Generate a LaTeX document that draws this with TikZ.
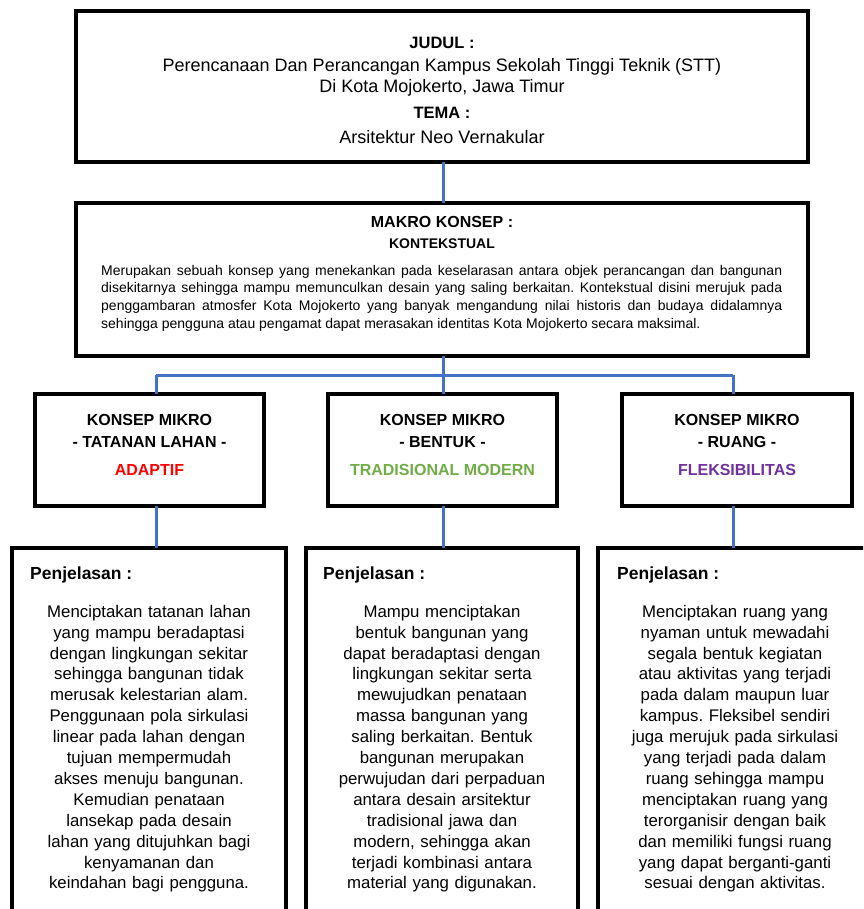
\documentclass[tikz,border=0pt]{standalone}
\usepackage{fontspec}
\setmainfont{Liberation Sans}
\frenchspacing
\definecolor{connblue}{HTML}{4472C4}
\definecolor{adred}{HTML}{FF0000}
\definecolor{tgreen}{HTML}{70AD47}
\definecolor{fpurple}{HTML}{7030A0}
\begin{document}
\begin{tikzpicture}[x=1pt,y=-1pt,
  box/.style={draw=black,line width=3.5pt,fill=white,inner sep=0pt,outer sep=0pt},
  conn/.style={draw=connblue,line width=3pt},
  lbl/.style={inner sep=0pt,anchor=base,text=black},
  ttl/.style={lbl,font=\bfseries\fontsize{16.5}{20}\selectfont},
  tbody/.style={lbl,font=\fontsize{18}{21}\selectfont},
  mik/.style={lbl,font=\bfseries\fontsize{16}{20}\selectfont},
  penj/.style={inner sep=0pt,anchor=base west,font=\bfseries\fontsize{17.5}{21}\selectfont},
  expl/.style={inner sep=0pt,anchor=north,text width=262pt,align=center,font=\fontsize{16.8}{20.9}\selectfont}
]
\useasboundingbox (0,0) rectangle (863,909);
\begin{scope}
\clip (0,0) rectangle (863,909);
% junction coordinates
\coordinate (j0) at (443,375);
\coordinate (j1) at (156,375);
\coordinate (j3) at (733,375);
% boxes
\node[box,minimum width=732pt,minimum height=151pt] (top) at (442,86.5) {};
\node[box,minimum width=732pt,minimum height=153pt] (makro) at (442,279.5) {};
\node[box,minimum width=229pt,minimum height=112pt] (ml) at (149.5,450) {};
\node[box,minimum width=229pt,minimum height=112pt] (mm) at (442.5,450) {};
\node[box,minimum width=230pt,minimum height=112pt] (mr) at (737,450) {};
\node[box,minimum width=274pt,minimum height=392pt] (bl) at (149,744) {};
\node[box,minimum width=272pt,minimum height=392pt] (bm) at (442,744) {};
\node[box,minimum width=274pt,minimum height=392pt] (br) at (735,744) {};
% connectors
\draw[conn] (top.south -| j0) -- (makro.north -| j0);
\draw[conn] (makro.south -| j0) -- (j0);
\draw[conn] (j1) -- (j3);
\draw[conn] (j1) -- (j1 |- ml.north);
\draw[conn] (j0) -- (j0 |- mm.north);
\draw[conn] (j3) -- (j3 |- mr.north);
\draw[conn] (ml.south -| j1) -- (bl.north -| j1);
\draw[conn] (mm.south -| j0) -- (bm.north -| j0);
\draw[conn] (mr.south -| j3) -- (br.north -| j3);
\end{scope}
% top texts
\node[ttl] (judul) at (442,49) {JUDUL :};
\node[tbody] (jl1) at (442,71.4) {Perencanaan Dan Perancangan Kampus Sekolah Tinggi Teknik (STT)};
\node[tbody] (jl2) at (442,92.4) {Di Kota Mojokerto, Jawa Timur};
\node[ttl] (tema) at (442,119) {TEMA :};
\node[tbody] (tl1) at (442,143.4) {Arsitektur Neo Vernakular};
% makro texts
\node[lbl,font=\bfseries\fontsize{16}{20}\selectfont] (mk1) at (442,227.7) {MAKRO KONSEP :};
\node[lbl,font=\bfseries\fontsize{14}{17}\selectfont] (mk2) at (442,248) {KONTEKSTUAL};
\node[anchor=north west,inner sep=0pt,text width=681pt,align=justify,font=\fontsize{14}{17.7}\selectfont] (mpara) at (101,262.6)
{\strut Merupakan sebuah konsep yang menekankan pada keselarasan antara objek perancangan dan bangunan\linebreak
disekitarnya sehingga mampu memunculkan desain yang saling berkaitan. Kontekstual disini merujuk pada\linebreak
penggambaran atmosfer Kota Mojokerto yang banyak mengandung nilai historis dan budaya didalamnya\linebreak
sehingga pengguna atau pengamat dapat merasakan identitas Kota Mojokerto secara maksimal.};
% mikro texts
\node[mik] (ml1) at (149.5,425.8) {KONSEP MIKRO};
\node[mik] (ml2) at (149.5,447.8) {- TATANAN LAHAN -};
\node[mik,text=adred] (ml3) at (149.5,475.8) {ADAPTIF};
\node[mik] (mm1) at (442.5,425.8) {KONSEP MIKRO};
\node[mik] (mm2) at (442.5,447.8) {- BENTUK -};
\node[mik,text=tgreen] (mm3) at (442.5,475.8) {TRADISIONAL MODERN};
\node[mik] (mr1) at (737,425.8) {KONSEP MIKRO};
\node[mik] (mr2) at (737,447.8) {- RUANG -};
\node[mik,text=fpurple] (mr3) at (737,475.8) {FLEKSIBILITAS};
% penjelasan
\node[penj] (pl) at (30,579.3) {Penjelasan :};
\node[penj] (pm) at (323,579.3) {Penjelasan :};
\node[penj] (pr) at (617,579.3) {Penjelasan :};
\node[expl] (el) at (149,602.4) {\strut Menciptakan tatanan lahan\\
yang mampu beradaptasi\\
dengan lingkungan sekitar\\
sehingga bangunan tidak\\
merusak kelestarian alam.\\
Penggunaan pola sirkulasi\\
linear pada lahan dengan\\
tujuan mempermudah\\
akses menuju bangunan.\\
Kemudian penataan\\
lansekap pada desain\\
lahan yang ditujuhkan bagi\\
kenyamanan dan\\
keindahan bagi pengguna.};
\node[expl] (em) at (442,602.4) {\strut Mampu menciptakan\\
bentuk bangunan yang\\
dapat beradaptasi dengan\\
lingkungan sekitar serta\\
mewujudkan penataan\\
massa bangunan yang\\
saling berkaitan. Bentuk\\
bangunan merupakan\\
perwujudan dari perpaduan\\
antara desain arsitektur\\
tradisional jawa dan\\
modern, sehingga akan\\
terjadi kombinasi antara\\
material yang digunakan.};
\node[expl] (er) at (735,602.4) {\strut Menciptakan ruang yang\\
nyaman untuk mewadahi\\
segala bentuk kegiatan\\
atau aktivitas yang terjadi\\
pada dalam maupun luar\\
kampus. Fleksibel sendiri\\
juga merujuk pada sirkulasi\\
yang terjadi pada dalam\\
ruang sehingga mampu\\
menciptakan ruang yang\\
terorganisir dengan baik\\
dan memiliki fungsi ruang\\
yang dapat berganti-ganti\\
sesuai dengan aktivitas.};
\end{tikzpicture}
\end{document}
